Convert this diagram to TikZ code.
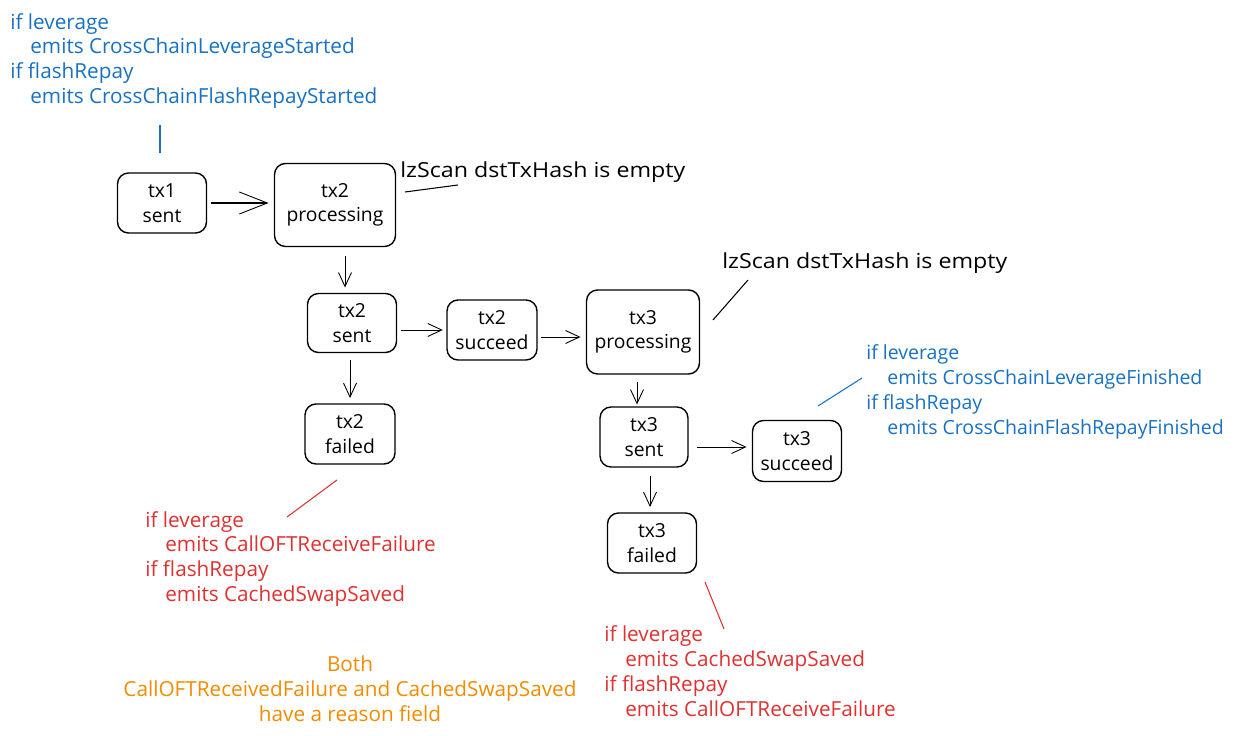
\documentclass[tikz,border=0pt]{standalone}
\usepackage{fontspec}
\usepackage{graphicx}
\setmainfont{Open Sans}
\usetikzlibrary{arrows.meta}
\definecolor{eblue}{HTML}{1971C2}
\definecolor{ered}{HTML}{E03131}
\definecolor{eorange}{HTML}{F08C00}
\begin{document}
\begin{tikzpicture}[x=0.02cm,y=-0.02cm,
  box/.style={draw, rounded corners=0.22cm, line width=0.8pt, align=center, inner sep=0pt,
    font=\fontsize{11}{14}\selectfont},
  arr/.style={-{Straight Barb[length=0.28cm,width=0.26cm,line width=0.5pt]}, line width=0.55pt},
  bigarr/.style={-{Straight Barb[length=0.56cm,width=0.44cm,line width=0.5pt]}, line width=0.6pt},
  note/.style={align=left, inner sep=0pt, anchor=west, font=\fontsize{11.8}{14.2}\selectfont},
  lead/.style={line width=0.6pt}]
\useasboundingbox (0,0) rectangle (1241,736);
% boxes
\node[box, minimum width=1.78cm, minimum height=1.2cm] (tx1s) at (162,203) {tx1\\sent};
\node[box, minimum width=2.42cm, minimum height=1.66cm] (tx2p) at (335,205) {tx2\\processing};
\node[box, minimum width=1.78cm, minimum height=1.18cm] (tx2s) at (352,323) {tx2\\sent};
\node[box, minimum width=1.8cm, minimum height=1.2cm] (tx2c) at (492,330) {tx2\\succeed};
\node[box, minimum width=2.26cm, minimum height=1.68cm] (tx3p) at (643,332) {tx3\\processing};
\node[box, minimum width=1.8cm, minimum height=1.2cm] (tx2f) at (350,434) {tx2\\failed};
\node[box, minimum width=1.76cm, minimum height=1.2cm] (tx3s) at (644,437) {tx3\\sent};
\node[box, minimum width=1.78cm, minimum height=1.22cm] (tx3c) at (797,451) {tx3\\succeed};
\node[box, minimum width=1.78cm, minimum height=1.2cm] (tx3f) at (652,543) {tx3\\failed};
% notes
\node[note, text=eblue] (n1) at (10,61) {if leverage\\\hspace*{0.4cm}emits CrossChainLeverageStarted\\if flashRepay\\\hspace*{0.4cm}emits CrossChainFlashRepayStarted};
\node[note] (lz1) at (400,172) {\scalebox{1.12}[1]{lzScan dstTxHash is empty}};
\node[note] (lz2) at (722,263) {\scalebox{1.12}[1]{lzScan dstTxHash is empty}};
\node[note, text=eblue, font=\fontsize{11.1}{14.2}\selectfont] (n2) at (866,392) {if leverage\\\hspace*{0.42cm}emits CrossChainLeverageFinished\\if flashRepay\\\hspace*{0.42cm}emits CrossChainFlashRepayFinished};
\node[note, text=ered] (n3) at (145,559) {if leverage\\\hspace*{0.4cm}emits CallOFTReceiveFailure\\if flashRepay\\\hspace*{0.4cm}emits CachedSwapSaved};
\node[note, text=ered] (n4) at (604,671) {if leverage\\\hspace*{0.42cm}emits CachedSwapSaved\\if flashRepay\\\hspace*{0.42cm}emits CallOFTReceiveFailure};
\node[note, anchor=center, align=center, text=eorange] (n5) at (350,689) {Both\\CallOFTReceivedFailure and CachedSwapSaved\\have a reason field};
% arrows
\draw[bigarr, shorten <=2pt, shorten >=3pt] (tx1s.east) -- (tx1s.east -| tx2p.west);
\draw[arr, shorten <=5pt, shorten >=3pt] (tx2p.south -| 345,0) -- (tx2s.north -| 345,0);
\draw[arr, shorten <=2pt, shorten >=2pt] (tx2s.east |- tx2c.west) -- (tx2c.west);
\draw[arr, shorten <=2pt, shorten >=3pt] (tx2c.east |- 0,337) -- (tx3p.west |- 0,337);
\draw[arr, shorten <=4pt, shorten >=3pt] (tx2s.south -| 350,0) -- (tx2f.north -| 350,0);
\draw[arr, shorten <=4pt, shorten >=1pt] (tx3p.south -| 637,0) -- (tx3s.north -| 637,0);
\draw[arr, shorten <=5pt, shorten >=3pt] (tx3s.east |- 0,447) -- (tx3c.west |- 0,447);
\draw[arr, shorten <=5pt, shorten >=3pt] (tx3s.south -| 650,0) -- (tx3f.north -| 650,0);
% leader lines
\coordinate (a1) at (160,125); \coordinate (a2) at (160,153);
\draw[lead, eblue] (a1) -- (a2);
\coordinate (b1) at (405,192); \coordinate (b2) at (458,185);
\draw[lead] (b1) -- (b2);
\coordinate (c1) at (713,320); \coordinate (c2) at (748,280);
\draw[lead] (c1) -- (c2);
\coordinate (d1) at (818,406); \coordinate (d2) at (862,378);
\draw[lead, eblue] (d1) -- (d2);
\coordinate (e1) at (287,517); \coordinate (e2) at (337,480);
\draw[lead, ered] (e1) -- (e2);
\coordinate (f1) at (705,582); \coordinate (f2) at (724,629);
\draw[lead, ered] (f1) -- (f2);
\end{tikzpicture}
\end{document}
